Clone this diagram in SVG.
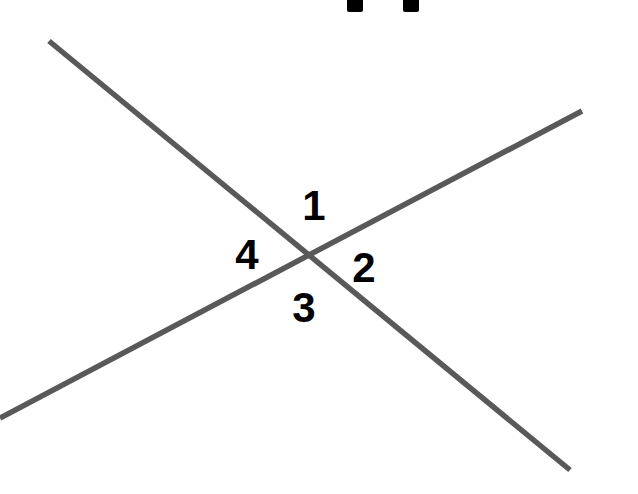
<svg xmlns="http://www.w3.org/2000/svg" width="638" height="494" viewBox="0 0 638 494">
<style>
.ln{stroke:#595959;stroke-width:5.5;fill:none}
.lb{font-family:"Liberation Sans",Arial,sans-serif;font-weight:bold;font-size:42px;fill:#000;text-anchor:middle}
.blk{fill:#000}
</style>
<rect width="638" height="494" fill="#fff"/>
<g id="top-marks">
<rect class="blk" x="347" y="-4" width="16" height="16" rx="2"/>
<rect class="blk" x="403" y="-4" width="16" height="16" rx="2"/>
</g>
<g id="connectors">
<line class="ln" x1="49" y1="41" x2="570" y2="470"/>
<line class="ln" x1="0" y1="418" x2="582" y2="111"/>
</g>
<g id="label-1"><text class="lb" x="314" y="220">1</text></g>
<g id="label-2"><text class="lb" x="364" y="282">2</text></g>
<g id="label-3"><text class="lb" x="304" y="322">3</text></g>
<g id="label-4"><text class="lb" x="247" y="269">4</text></g>
</svg>
